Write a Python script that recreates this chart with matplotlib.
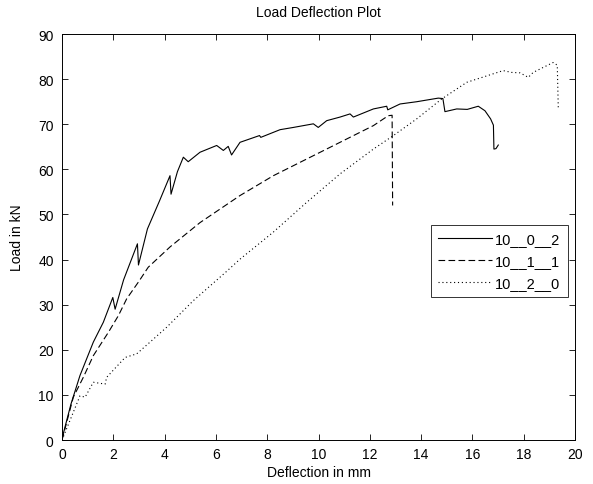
import numpy as np
import matplotlib
matplotlib.use("Agg")
import matplotlib.pyplot as plt

plt.rcParams['font.family'] = ['Liberation Sans', 'DejaVu Sans']

# 10_0_2 (solid)
x_002 = [0, 0.03, 0.35, 0.70, 1.22, 1.61, 1.98, 2.07, 2.40, 2.94, 2.98, 3.33, 3.80, 4.21,
         4.25, 4.50, 4.73, 4.92, 5.38, 6.03, 6.29, 6.48, 6.61, 6.94, 7.70, 7.75, 8.50,
         9.02, 9.80, 9.99, 10.32, 10.84, 11.23, 11.36, 12.14, 12.66, 12.70, 13.18,
         13.83, 14.67, 14.85, 14.93, 15.39, 15.80, 16.23, 16.49, 16.71, 16.82, 16.84,
         16.92, 17.01]
y_002 = [0, 1.0, 8.0, 14.3, 21.7, 26.1, 31.6, 29.0, 35.5, 43.5, 38.8, 46.8, 53.0, 58.6,
         54.5, 59.5, 62.7, 61.7, 63.8, 65.3, 64.2, 65.1, 63.2, 66.0, 67.5, 67.1, 68.8,
         69.3, 70.1, 69.3, 70.8, 71.6, 72.3, 71.6, 73.4, 74.0, 73.2, 74.5,
         75.0, 75.8, 75.7, 72.8, 73.4, 73.3, 74.0, 73.0, 71.2, 69.8, 64.5,
         64.6, 65.4]

# 10_1_1 (dashed)
x_011 = [0, 0.44, 0.83, 1.22, 1.81, 2.20, 2.52, 3.00, 3.36, 4.21, 5.38, 6.94, 8.24,
         9.54, 10.84, 12.14, 12.72, 12.87, 12.89]
y_011 = [0, 9.5, 13.9, 18.7, 23.9, 27.6, 31.3, 35.2, 38.3, 42.8, 48.2, 54.2, 58.6,
         62.3, 66.0, 69.7, 71.9, 72.0, 52.0]

# 10_2_0 (dotted)
x_020 = [0, 0.70, 0.90, 1.22, 1.68, 1.74, 2.46, 2.91, 3.43, 4.08, 5.12, 6.42, 6.94,
         8.24, 9.54, 10.84, 12.14, 12.92, 13.83, 14.80, 15.78, 17.20, 17.53, 17.86,
         18.18, 18.37, 19.15, 19.31, 19.35]
y_020 = [0, 9.8, 9.5, 12.8, 12.4, 13.9, 18.3, 19.1, 21.7, 25.0, 30.9, 37.4, 40.1,
         46.1, 52.7, 59.0, 64.5, 67.5, 71.2, 75.6, 79.3, 81.9, 81.5, 81.4,
         80.4, 81.5, 83.7, 83.1, 73.4]

fig = plt.figure(figsize=(5.93, 4.85), dpi=100)
ax = fig.add_axes([0.1046, 0.0907, 0.865, 0.837])

ax.plot(x_002, y_002, color='black', linestyle='-', linewidth=0.8, label='10__0__2')
ax.plot(x_011, y_011, color='black', linestyle=(0, (6, 3)), linewidth=0.8, label='10__1__1')
ax.plot(x_020, y_020, color='black', linestyle=(0, (1, 2.5)), linewidth=0.8, label='10__2__0')

ax.set_xlim(0, 20)
ax.set_ylim(0, 90)
ax.set_xticks(np.arange(0, 21, 2))
ax.set_yticks(np.arange(0, 91, 10))
ax.tick_params(direction='in', top=True, right=True, labelsize=10, length=4, width=0.6)
ax.tick_params(axis='x', pad=5)
ax.tick_params(axis='y', pad=6)
for s in ax.spines.values():
    s.set_linewidth(0.7)

ax.set_title('Load Deflection Plot', fontsize=10, pad=13)
ax.set_xlabel('Deflection in mm', fontsize=10, labelpad=3)
ax.set_ylabel('Load in kN', fontsize=10, labelpad=10)

leg = ax.legend(loc='upper right', bbox_to_anchor=(0.986, 0.53), borderaxespad=0,
                fontsize=10.5, frameon=True, fancybox=False, edgecolor='black',
                handlelength=3.7, borderpad=0.5, labelspacing=0.55, handletextpad=0.2)
leg.get_frame().set_linewidth(0.7)

fig.savefig('out.png', dpi=100)
